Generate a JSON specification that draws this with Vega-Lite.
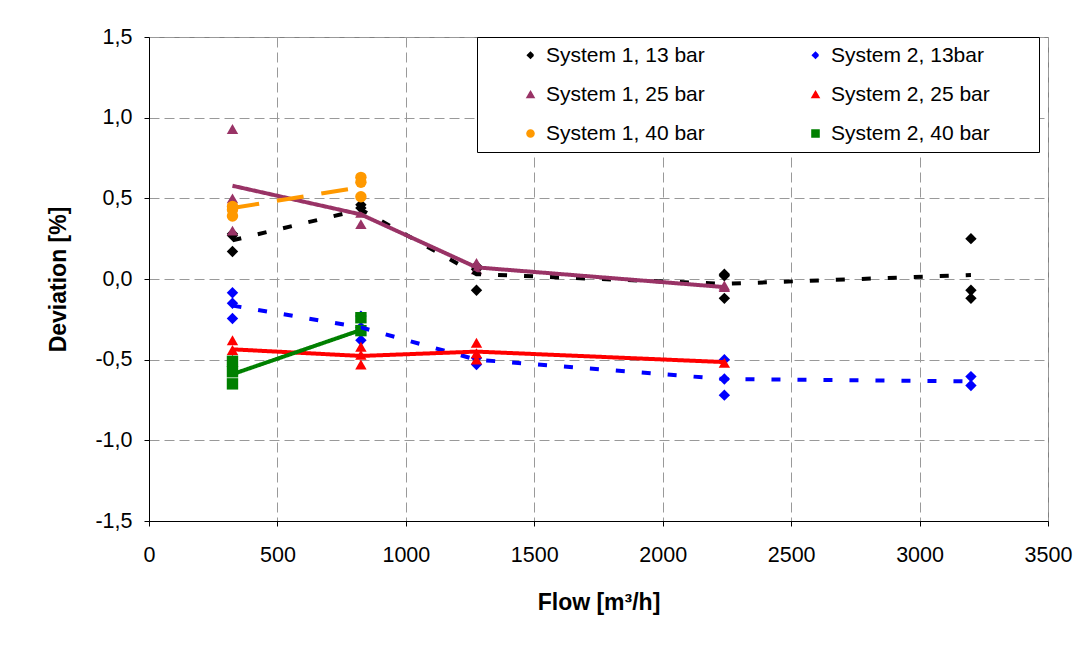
{
  "$schema": "https://vega.github.io/schema/vega-lite/v6.json",
  "width": 899,
  "height": 484,
  "autosize": {"type": "none"},
  "padding": {"left": 149, "top": 37, "right": 39, "bottom": 125},
  "background": "white",
  "config": {
    "font": "Liberation Sans",
    "locale": {"number": {"decimal": ",", "thousands": "", "grouping": [3], "currency": ["", ""], "minus": "-"}},
    "view": {"stroke": "#808080", "strokeWidth": 1},
    "axis": {
      "domainColor": "black", "domainWidth": 1, "tickColor": "black", "tickSize": 5,
      "labelFontSize": 21.5, "labelColor": "black", "titleFontSize": 23, "titleFontWeight": "bold", "titleColor": "black",
      "gridColor": "#999999", "gridDash": [10, 5], "gridWidth": 1, "labelFlush": false
    }
  },
  "datasets": {
    "pts": [
      {"series": "System 1, 13 bar", "flow": 325, "dev": 0.17},
      {"series": "System 1, 13 bar", "flow": 325, "dev": 0.27},
      {"series": "System 1, 13 bar", "flow": 325, "dev": 0.28},
      {"series": "System 1, 13 bar", "flow": 825, "dev": 0.46},
      {"series": "System 1, 13 bar", "flow": 825, "dev": 0.44},
      {"series": "System 1, 13 bar", "flow": 1275, "dev": -0.07},
      {"series": "System 1, 13 bar", "flow": 1275, "dev": 0.06},
      {"series": "System 1, 13 bar", "flow": 1275, "dev": 0.08},
      {"series": "System 1, 13 bar", "flow": 2240, "dev": 0.03},
      {"series": "System 1, 13 bar", "flow": 2240, "dev": 0.02},
      {"series": "System 1, 13 bar", "flow": 2240, "dev": -0.12},
      {"series": "System 1, 13 bar", "flow": 3200, "dev": 0.25},
      {"series": "System 1, 13 bar", "flow": 3200, "dev": -0.07},
      {"series": "System 1, 13 bar", "flow": 3200, "dev": -0.12},
      {"series": "System 2, 13bar", "flow": 325, "dev": -0.085},
      {"series": "System 2, 13bar", "flow": 325, "dev": -0.15},
      {"series": "System 2, 13bar", "flow": 325, "dev": -0.245},
      {"series": "System 2, 13bar", "flow": 825, "dev": -0.23},
      {"series": "System 2, 13bar", "flow": 825, "dev": -0.30},
      {"series": "System 2, 13bar", "flow": 825, "dev": -0.38},
      {"series": "System 2, 13bar", "flow": 1275, "dev": -0.49},
      {"series": "System 2, 13bar", "flow": 1275, "dev": -0.53},
      {"series": "System 2, 13bar", "flow": 2240, "dev": -0.50},
      {"series": "System 2, 13bar", "flow": 2240, "dev": -0.62},
      {"series": "System 2, 13bar", "flow": 2240, "dev": -0.72},
      {"series": "System 2, 13bar", "flow": 3200, "dev": -0.605},
      {"series": "System 2, 13bar", "flow": 3200, "dev": -0.66},
      {"series": "System 1, 25 bar", "flow": 325, "dev": 0.93},
      {"series": "System 1, 25 bar", "flow": 325, "dev": 0.50},
      {"series": "System 1, 25 bar", "flow": 325, "dev": 0.30},
      {"series": "System 1, 25 bar", "flow": 825, "dev": 0.41},
      {"series": "System 1, 25 bar", "flow": 825, "dev": 0.34},
      {"series": "System 1, 25 bar", "flow": 1275, "dev": 0.10},
      {"series": "System 1, 25 bar", "flow": 1275, "dev": 0.06},
      {"series": "System 1, 25 bar", "flow": 2240, "dev": -0.05},
      {"series": "System 1, 25 bar", "flow": 2240, "dev": -0.04},
      {"series": "System 2, 25 bar", "flow": 325, "dev": -0.38},
      {"series": "System 2, 25 bar", "flow": 325, "dev": -0.44},
      {"series": "System 2, 25 bar", "flow": 325, "dev": -0.50},
      {"series": "System 2, 25 bar", "flow": 825, "dev": -0.42},
      {"series": "System 2, 25 bar", "flow": 825, "dev": -0.47},
      {"series": "System 2, 25 bar", "flow": 825, "dev": -0.53},
      {"series": "System 2, 25 bar", "flow": 1275, "dev": -0.395},
      {"series": "System 2, 25 bar", "flow": 1275, "dev": -0.46},
      {"series": "System 2, 25 bar", "flow": 1275, "dev": -0.50},
      {"series": "System 2, 25 bar", "flow": 2240, "dev": -0.52},
      {"series": "System 1, 40 bar", "flow": 325, "dev": 0.45},
      {"series": "System 1, 40 bar", "flow": 325, "dev": 0.43},
      {"series": "System 1, 40 bar", "flow": 325, "dev": 0.39},
      {"series": "System 1, 40 bar", "flow": 825, "dev": 0.63},
      {"series": "System 1, 40 bar", "flow": 825, "dev": 0.60},
      {"series": "System 1, 40 bar", "flow": 825, "dev": 0.51},
      {"series": "System 2, 40 bar", "flow": 325, "dev": -0.51},
      {"series": "System 2, 40 bar", "flow": 325, "dev": -0.575},
      {"series": "System 2, 40 bar", "flow": 325, "dev": -0.65},
      {"series": "System 2, 40 bar", "flow": 825, "dev": -0.24},
      {"series": "System 2, 40 bar", "flow": 825, "dev": -0.32}
    ],
    "lines": [
      {"series": "System 1, 13 bar", "flow": 325, "dev": 0.24},
      {"series": "System 1, 13 bar", "flow": 825, "dev": 0.43},
      {"series": "System 1, 13 bar", "flow": 1275, "dev": 0.03},
      {"series": "System 1, 13 bar", "flow": 2240, "dev": -0.03},
      {"series": "System 1, 13 bar", "flow": 3200, "dev": 0.025},
      {"series": "System 2, 13bar", "flow": 325, "dev": -0.165},
      {"series": "System 2, 13bar", "flow": 825, "dev": -0.30},
      {"series": "System 2, 13bar", "flow": 1275, "dev": -0.50},
      {"series": "System 2, 13bar", "flow": 2240, "dev": -0.62},
      {"series": "System 2, 13bar", "flow": 3200, "dev": -0.635},
      {"series": "System 1, 25 bar", "flow": 325, "dev": 0.578},
      {"series": "System 1, 25 bar", "flow": 825, "dev": 0.40},
      {"series": "System 1, 25 bar", "flow": 1275, "dev": 0.072},
      {"series": "System 1, 25 bar", "flow": 2240, "dev": -0.05},
      {"series": "System 2, 25 bar", "flow": 325, "dev": -0.436},
      {"series": "System 2, 25 bar", "flow": 825, "dev": -0.477},
      {"series": "System 2, 25 bar", "flow": 1275, "dev": -0.45},
      {"series": "System 2, 25 bar", "flow": 2240, "dev": -0.515},
      {"series": "System 1, 40 bar", "flow": 325, "dev": 0.44},
      {"series": "System 1, 40 bar", "flow": 825, "dev": 0.57},
      {"series": "System 2, 40 bar", "flow": 325, "dev": -0.59},
      {"series": "System 2, 40 bar", "flow": 825, "dev": -0.316}
    ]
  },
  "layer": [
    {
      "data": {"name": "pts"},
      "mark": {"type": "point", "filled": true, "opacity": 1, "size": 130, "strokeWidth": 0},
      "encoding": {
        "x": {
          "field": "flow", "type": "quantitative",
          "scale": {"domain": [0, 3500], "nice": false},
          "axis": {"values": [0, 500, 1000, 1500, 2000, 2500, 3000, 3500], "format": "d", "title": "Flow [m³/h]", "labelPadding": 18, "titlePadding": 26}
        },
        "y": {
          "field": "dev", "type": "quantitative",
          "scale": {"domain": [-1.5, 1.5], "nice": false},
          "axis": {"values": [-1.5, -1, -0.5, 0, 0.5, 1, 1.5], "format": ".1f", "title": "Deviation [%]", "labelPadding": 12, "titlePadding": 24}
        },
        "color": {
          "field": "series", "type": "nominal",
          "scale": {
            "domain": ["System 1, 13 bar", "System 2, 13bar", "System 1, 25 bar", "System 2, 25 bar", "System 1, 40 bar", "System 2, 40 bar"],
            "range": ["#000000", "#0000FF", "#993366", "#FF0000", "#FF9900", "#008000"]
          },
          "legend": {
            "orient": "none", "legendX": 328, "legendY": 0, "columns": 2, "direction": "horizontal", "gridAlign": "all",
            "title": "\u00a0", "titleOrient": "right", "titlePadding": 41, "titleFontSize": 21,
            "strokeColor": "black", "fillColor": "white", "padding": 8,
            "labelFontSize": 21, "labelColor": "black", "labelLimit": 300,
            "symbolOffset": 35, "labelOffset": 5, "columnPadding": 65, "rowPadding": 17, "symbolSize": 50
          }
        },
        "shape": {
          "field": "series", "type": "nominal",
          "scale": {
            "domain": ["System 1, 13 bar", "System 2, 13bar", "System 1, 25 bar", "System 2, 25 bar", "System 1, 40 bar", "System 2, 40 bar"],
            "range": ["diamond", "diamond", "triangle-up", "triangle-up", "circle", "square"]
          }
        }
      }
    },
    {
      "data": {"name": "lines"},
      "mark": {"type": "line", "strokeWidth": 4, "strokeCap": "butt"},
      "encoding": {
        "x": {"field": "flow", "type": "quantitative"},
        "y": {"field": "dev", "type": "quantitative"},
        "stroke": {
          "field": "series", "type": "nominal", "legend": null,
          "scale": {
            "domain": ["System 1, 13 bar", "System 2, 13bar", "System 1, 25 bar", "System 2, 25 bar", "System 1, 40 bar", "System 2, 40 bar"],
            "range": ["#000000", "#0000FF", "#993366", "#FF0000", "#FF9900", "#008000"]
          }
        },
        "strokeDash": {
          "field": "series", "type": "nominal", "legend": null,
          "scale": {
            "domain": ["System 1, 13 bar", "System 2, 13bar", "System 1, 25 bar", "System 2, 25 bar", "System 1, 40 bar", "System 2, 40 bar"],
            "range": [[9, 17], [9, 17], [1, 0], [1, 0], [27, 18], [1, 0]]
          }
        }
      }
    }
  ]
}
